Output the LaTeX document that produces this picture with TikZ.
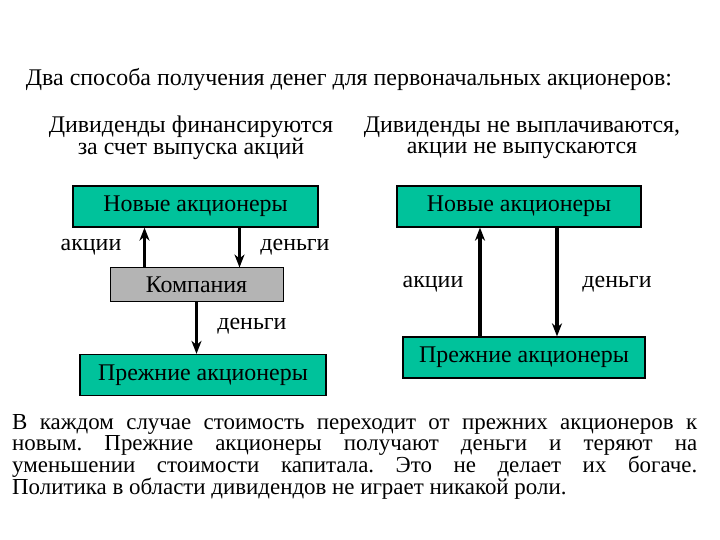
\documentclass[tikz,border=0pt]{standalone}
\usepackage{fontspec}
\setmainfont{Liberation Serif}
\usetikzlibrary{arrows.meta, positioning}
\definecolor{tealbox}{RGB}{0,194,155}
\definecolor{graybox}{RGB}{180,180,180}

\begin{document}
\begin{tikzpicture}[x=1bp, y=-1bp, font=\fontsize{24}{21}\selectfont,
    holder/.style={draw=black, line width=1.2bp, fill=tealbox, minimum width=245bp, minimum height=41bp, inner sep=0pt},
    firm/.style={draw=black, line width=1bp, fill=graybox, minimum width=173bp, minimum height=33bp, inner sep=0pt},
    flow/.style={-{Stealth[length=13bp, width=10bp, inset=4bp]}, line width=3.5bp},
    lbl/.style={inner sep=0pt}]
    \useasboundingbox (0,0) rectangle (720,540);
    % heading and the two cases
    \node[lbl] (title) at (349,80) {Два способа получения денег для первоначальных акционеров:};
    \node[lbl, align=center] (caseL) at (191,138) {Дивиденды финансируются\\за счет выпуска акций};
    \node[lbl, align=center] (caseR) at (522,138) {Дивиденды не выплачиваются,\\акции не выпускаются};
    % left case: boxes
    \node[holder] (newL) at (195.5,206.5) {Новые акционеры};
    \node[firm] (comp) at (196.5,284.5) {Компания};
    \node[holder, minimum width=246bp] (oldL) at (203,375) {Прежние акционеры};
    % left case: flows
    \draw[flow] ([xshift=-52bp]comp.north) -- ([xshift=-52bp]comp.north |- newL.south);
    \draw[flow] ([xshift=44bp]newL.south) -- ([xshift=44bp]newL.south |- comp.north);
    \draw[flow] (comp.south) -- (comp.south |- oldL.north);
    \node[lbl] (sharesL) at (91,247) {акции};
    \node[lbl] (cashL) at (295,247) {деньги};
    \node[lbl] (cashC) at (252,326) {деньги};
    % right case: boxes
    \node[holder, minimum width=244bp] (newR) at (519,206.5) {Новые акционеры};
    \node[holder, minimum width=242bp] (oldR) at (524,357.5) {Прежние акционеры};
    % right case: flows
    \draw[flow] ([xshift=-44bp]oldR.north) -- ([xshift=-44bp]oldR.north |- newR.south);
    \draw[flow] ([xshift=38bp]newR.south) -- ([xshift=38bp]newR.south |- oldR.north);
    \node[lbl] (sharesR) at (433,284) {акции};
    \node[lbl] (cashR) at (617,284) {деньги};
    % conclusion
    \node[lbl, anchor=north west, text width=685bp, align=justify, font=\fontsize{23}{20}\selectfont] (note) at (12,414)
      {\frenchspacing В каждом случае стоимость переходит от прежних акционеров к\linebreak новым. Прежние акционеры получают деньги и теряют на\linebreak уменьшении стоимости капитала. Это не делает их богаче.\linebreak Политика в области дивидендов не играет никакой роли.};
\end{tikzpicture}
\end{document}
